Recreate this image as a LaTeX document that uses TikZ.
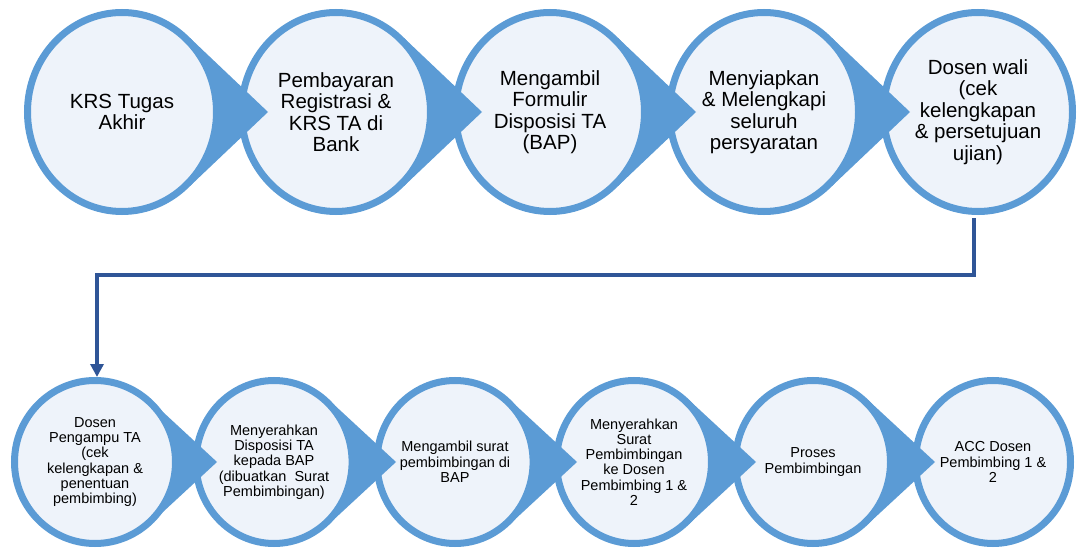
\documentclass[tikz,border=0pt]{standalone}
\usepackage{fontspec}
\setmainfont{Liberation Sans}
\usetikzlibrary{shapes.geometric,calc,arrows.meta}
\definecolor{ringblue}{HTML}{5B9BD5}
\definecolor{fillblue}{HTML}{EEF3FA}
\definecolor{linkblue}{HTML}{2F5597}
\begin{document}
\begin{tikzpicture}[x=1pt,y=-1pt,
  bigstep/.style={ellipse, draw=ringblue, fill=fillblue, line width=7pt, inner sep=0pt,
    minimum width=189pt, minimum height=199pt, align=center,
    font=\fontsize{20.5}{21.5}\selectfont},
  smallstep/.style={ellipse, draw=ringblue, fill=fillblue, line width=7pt, inner sep=0pt,
    minimum width=155pt, minimum height=163pt, align=center,
    font=\fontsize{14.5}{15.3}\selectfont},
  pointer/.style={fill=ringblue},
  link/.style={draw=linkblue, line width=3.5pt, -{Triangle[width=13pt,length=13pt]}}]
\useasboundingbox (0,0) rectangle (1077,548);
% centres
\coordinate (t1) at (122,112);
\coordinate (t2) at (336,112);
\coordinate (t3) at (550,112);
\coordinate (t4) at (764,112);
\coordinate (t5) at (978,112);
\coordinate (s1) at (95,462);
\coordinate (s2) at (274,462);
\coordinate (s3) at (455,462);
\coordinate (s4) at (634,462);
\coordinate (s5) at (813,462);
\coordinate (s6) at (993,462);
\coordinate (bend) at (0,275);
% top row (drawn right to left so each pointer lies over the next circle)
\node[bigstep] (c5) at (t5) {Dosen wali\\(cek\\kelengkapan\\\& persetujuan\\ujian)};
\fill[pointer] ($(t4)+(68,-74)$) -- ($(t4)+(146,0)$) -- ($(t4)+(68,74)$) -- cycle;
\node[bigstep] (c4) at (t4) {Menyiapkan\\\& Melengkapi\\seluruh\\persyaratan};
\fill[pointer] ($(t3)+(68,-74)$) -- ($(t3)+(146,0)$) -- ($(t3)+(68,74)$) -- cycle;
\node[bigstep] (c3) at (t3) {Mengambil\\Formulir\\Disposisi TA\\(BAP)};
\fill[pointer] ($(t2)+(68,-74)$) -- ($(t2)+(146,0)$) -- ($(t2)+(68,74)$) -- cycle;
\node[bigstep] (c2) at (t2) {Pembayaran\\Registrasi \&\\KRS TA di\\Bank};
\fill[pointer] ($(t1)+(68,-74)$) -- ($(t1)+(146,0)$) -- ($(t1)+(68,74)$) -- cycle;
\node[bigstep] (c1) at (t1) {KRS Tugas\\Akhir};
% bottom row
\node[smallstep] (b6) at (s6) {ACC Dosen\\Pembimbing 1 \&\\2};
\fill[pointer] ($(s5)+(55,-62)$) -- ($(s5)+(122,0)$) -- ($(s5)+(55,62)$) -- cycle;
\node[smallstep] (b5) at (s5) {Proses\\Pembimbingan};
\fill[pointer] ($(s4)+(55,-62)$) -- ($(s4)+(122,0)$) -- ($(s4)+(55,62)$) -- cycle;
\node[smallstep] (b4) at (s4) {Menyerahkan\\Surat\\Pembimbingan\\ke Dosen\\Pembimbing 1 \&\\2};
\fill[pointer] ($(s3)+(55,-62)$) -- ($(s3)+(122,0)$) -- ($(s3)+(55,62)$) -- cycle;
\node[smallstep] (b3) at (s3) {Mengambil surat\\pembimbingan di\\BAP};
\fill[pointer] ($(s2)+(55,-62)$) -- ($(s2)+(122,0)$) -- ($(s2)+(55,62)$) -- cycle;
\node[smallstep] (b2) at (s2) {Menyerahkan\\Disposisi TA\\kepada BAP\\(dibuatkan\ \ Surat\\Pembimbingan)};
\fill[pointer] ($(s1)+(55,-62)$) -- ($(s1)+(122,0)$) -- ($(s1)+(55,62)$) -- cycle;
\node[smallstep, minimum width=161pt] (b1) at (s1) {Dosen\\Pengampu TA\\(cek\\kelengkapan \&\\penentuan\\pembimbing)};
% connector
\draw[link, shorten <=3.5pt] ([xshift=-4pt]c5.south) -- ([xshift=-4pt]c5.south |- bend)
  -- ([xshift=2pt]b1.north |- bend) -- ([xshift=2pt]b1.north);
\end{tikzpicture}
\end{document}
